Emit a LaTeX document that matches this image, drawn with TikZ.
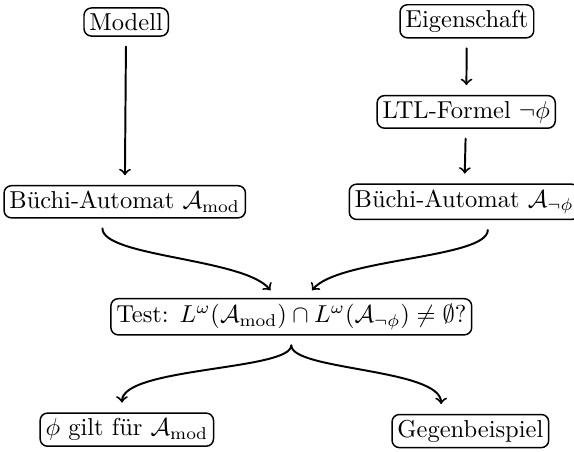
\documentclass[tikz,border=0pt]{standalone}
\usepackage{fontspec}
\usepackage{amssymb}
\usepackage{tikz}
\usetikzlibrary{arrows}
\tikzset{kasten/.style={draw, rounded corners=3pt, inner sep=2.2pt, semithick},
  pfeil/.style={->, thick, shorten >=4pt, shorten <=4pt}}

\begin{document}
\begin{tikzpicture}[line cap=round,line join=round,x=1cm,y=1cm]
\useasboundingbox (0,0) rectangle (8.237,6.486);
\node[kasten] (modell) at (1.81,6.17) {Modell};
\node[kasten] (eigenschaft) at (6.70,6.18) {Eigenschaft};
\node[kasten] (ltl) at (6.69,4.88) {LTL-Formel $\neg\phi$};
\node[kasten] (buechimod) at (1.79,3.59) {Büchi-Automat $\mathcal{A}_{\mathrm{mod}}$};
\node[kasten] (buechiphi) at (6.66,3.59) {Büchi-Automat $\mathcal{A}_{\neg\phi}$};
\node[kasten] (test) at (4.18,1.94) {Test: $L^\omega(\mathcal{A}_{\mathrm{mod}})\cap L^\omega(\mathcal{A}_{\neg\phi})\neq\emptyset$?};
\node[kasten] (gilt) at (1.82,0.32) {$\phi$ gilt für $\mathcal{A}_{\mathrm{mod}}$};
\node[kasten] (gegen) at (6.75,0.30) {Gegenbeispiel};

\draw[pfeil] (modell) -- (buechimod);
\draw[pfeil] (eigenschaft) -- (ltl);
\draw[pfeil] (ltl) -- (buechiphi);

\draw[pfeil] ([xshift=-3.2mm]buechimod.south) .. controls +(0,-0.55) and +(-0.46,0.57) .. ([xshift=-2.1mm]test.north);
\draw[pfeil] ([xshift=3.4mm]buechiphi.south) .. controls +(0,-0.55) and +(0.46,0.57) .. ([xshift=2.1mm]test.north);

\draw[pfeil] (test.south) .. controls +(0,-0.5) and +(0,0.65) .. ([xshift=-0.7mm]gilt.north);
\draw[pfeil] (test.south) .. controls +(0,-0.5) and +(0,0.65) .. ([xshift=-4.2mm]gegen.north);
\end{tikzpicture}
\end{document}
